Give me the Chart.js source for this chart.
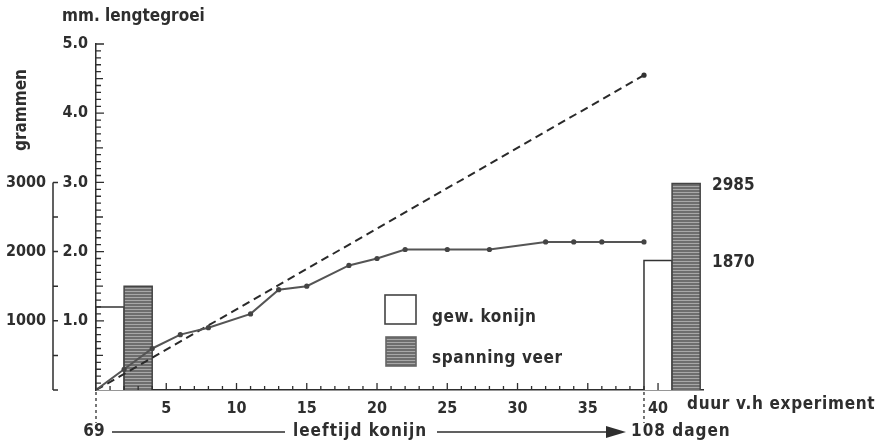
<!DOCTYPE html>
<html>
<head>
<meta charset="utf-8">
<script src="https://cdn.jsdelivr.net/npm/chart.js@4.4.0/dist/chart.umd.min.js"></script>
<style>
  html, body { margin: 0; padding: 0; background: #fff; }
  #wrap { width: 884px; height: 445px; position: relative; }
</style>
</head>
<body>
<div id="wrap"><canvas id="growthChart"></canvas></div>
<script>
// measured growth (mm) per day of the experiment
const growthDays = [0, 2, 4, 6, 8, 11, 13, 15, 18, 20, 22, 25, 28, 32, 34, 36, 39];
const growthMm = [0, 0.3, 0.6, 0.8, 0.9, 1.1, 1.45, 1.5, 1.8, 1.9, 2.03, 2.03, 2.03, 2.14, 2.14, 2.14, 2.14];

// dashed reference line
const expectedDays = [0, 39];
const expectedMm = [0, 4.55];

// bar pairs (start day of each pair), weight of rabbit and spring tension in grams
const barDays = [0, 39];
const rabbitWeight = [1200, 1870];
const springTension = [1500, 2985];

// tick labels
const dayTicks = [5, 10, 15, 20, 25, 30, 35, 40];
const mmTicks = ['1.0', '2.0', '3.0', '4.0', '5.0'];
const gramTicks = [1000, 2000, 3000];
const ageLabels = ['69', '108'];

const FONT = '"DejaVu Sans Condensed", "DejaVu Sans", sans-serif';
const INK = '#2e2e2e';
const BAR_W = 2;

// striped grey fill for the spring bars
function makeStripes() {
    const c = document.createElement('canvas');
    c.width = 6; c.height = 3;
    const g = c.getContext('2d');
    g.fillStyle = '#6e6e6e';
    g.fillRect(0, 0, 6, 3);
    g.fillStyle = '#a8a8a8';
    g.fillRect(0, 0, 6, 1);
    return g.createPattern(c, 'repeat');
}
const stripes = makeStripes();

function barShape(x0, value) {
    return [{x: x0, y: 0}, {x: x0, y: value}, {x: x0 + BAR_W, y: value}, {x: x0 + BAR_W, y: 0}];
}

const barSets = [];
barDays.forEach((d, i) => {
    barSets.push({
        label: 'gew. konijn',
        data: barShape(d, rabbitWeight[i]),
        yAxisID: 'yg',
        borderColor: '#333',
        borderWidth: 1.5,
        backgroundColor: '#fff',
        fill: 'origin',
        pointRadius: 0,
        order: 2
    });
    barSets.push({
        label: 'spanning veer',
        data: barShape(d + BAR_W, springTension[i]),
        yAxisID: 'yg',
        borderColor: '#444',
        borderWidth: 1.5,
        backgroundColor: stripes,
        fill: 'origin',
        pointRadius: 0,
        order: 1
    });
});

// ticks, side texts and legend drawn on top
const extras = {
    id: 'extras',
    afterDraw(chart) {
        const ctx = chart.ctx;
        const xs = chart.scales.x, ys = chart.scales.y, yg = chart.scales.yg;
        const base = ys.getPixelForValue(0);
        ctx.save();
        ctx.strokeStyle = INK;
        ctx.fillStyle = INK;
        ctx.lineWidth = 1.3;

        // day ticks, pointing up
        ctx.beginPath();
        for (let d = 1; d <= 40; d++) {
            const px = xs.getPixelForValue(d);
            const len = d % 5 === 0 ? 7 : 4;
            ctx.moveTo(px, base);
            ctx.lineTo(px, base - len);
        }
        ctx.stroke();

        // mm ticks, pointing right
        const ax = chart.chartArea.left;
        ctx.beginPath();
        for (let m = 1; m <= 50; m++) {
            const py = ys.getPixelForValue(m / 10);
            const len = m % 10 === 0 ? 8 : (m % 5 === 0 ? 7 : 5);
            ctx.moveTo(ax, py);
            ctx.lineTo(ax + len, py);
        }
        ctx.stroke();

        // gram axis 0..3000
        const gx = yg.right - 2;
        ctx.lineWidth = 1.5;
        ctx.beginPath();
        ctx.moveTo(gx, yg.getPixelForValue(0));
        ctx.lineTo(gx, yg.getPixelForValue(3000));
        for (let g = 0; g <= 3000; g += 500) {
            const py = yg.getPixelForValue(g);
            ctx.moveTo(gx, py);
            ctx.lineTo(gx + 5, py);
        }
        ctx.stroke();

        // dashed markers under day 0 and the last day
        ctx.setLineDash([3, 3]);
        ctx.lineWidth = 1.3;
        [expectedDays[0], expectedDays[1]].forEach(d => {
            const px = xs.getPixelForValue(d);
            ctx.beginPath();
            ctx.moveTo(px, base + 2);
            ctx.lineTo(px, base + 33);
            ctx.stroke();
        });
        ctx.setLineDash([]);

        // texts
        ctx.font = 'bold 17px ' + FONT;
        ctx.textBaseline = 'middle';
        ctx.textAlign = 'left';
        ctx.fillText('mm. lengtegroei', 62, 17);
        ctx.fillText(String(springTension[1]), 712, yg.getPixelForValue(springTension[1]) + 2);
        ctx.fillText(String(rabbitWeight[1]), 712, yg.getPixelForValue(rabbitWeight[1]) + 2);

        ctx.save();
        ctx.translate(22, 110);
        ctx.rotate(-Math.PI / 2);
        ctx.textAlign = 'center';
        ctx.fillText('grammen', 0, 0);
        ctx.restore();

        ctx.letterSpacing = '0.7px';
        ctx.fillText('duur v.h experiment', 687, 405);

        // age row
        const rowY = 432;
        const x0 = xs.getPixelForValue(expectedDays[0]);
        const x1 = xs.getPixelForValue(expectedDays[1]);
        ctx.letterSpacing = '0px';
        ctx.textAlign = 'center';
        ctx.fillText(ageLabels[0], x0 - 2, rowY);
        ctx.textAlign = 'left';
        ctx.letterSpacing = '1px';
        ctx.fillText('leeftijd konijn', 293, rowY);
        ctx.fillText(ageLabels[1] + ' dagen', x1 - 13, rowY);
        ctx.letterSpacing = '0px';
        ctx.lineWidth = 1.3;
        ctx.beginPath();
        ctx.moveTo(x0 + 16, rowY);
        ctx.lineTo(285, rowY);
        ctx.moveTo(437, rowY);
        ctx.lineTo(x1 - 25, rowY);
        ctx.stroke();
        ctx.beginPath();
        ctx.moveTo(x1 - 38, rowY - 6);
        ctx.lineTo(x1 - 18, rowY);
        ctx.lineTo(x1 - 38, rowY + 6);
        ctx.closePath();
        ctx.fill();

        // legend
        ctx.lineWidth = 1.6;
        ctx.strokeStyle = '#444';
        ctx.fillStyle = '#fff';
        ctx.fillRect(385, 295, 31, 29);
        ctx.strokeRect(385, 295, 31, 29);
        ctx.fillStyle = stripes;
        ctx.fillRect(386, 337, 30, 29);
        ctx.strokeStyle = '#666';
        ctx.strokeRect(386, 337, 30, 29);
        ctx.fillStyle = INK;
        ctx.letterSpacing = '0.6px';
        ctx.fillText('gew. konijn', 432, 318);
        ctx.fillText('spanning veer', 432, 359);
        ctx.restore();
    }
};

const ctx = document.getElementById('growthChart').getContext('2d');
const growthChart = new Chart(ctx, {
    type: 'line',
    data: {
        datasets: [
            {
                label: 'lengtegroei',
                data: growthDays.map((d, i) => ({x: d, y: growthMm[i]})),
                yAxisID: 'y',
                borderColor: '#555',
                borderWidth: 2,
                pointRadius: 2.6,
                pointBackgroundColor: '#444',
                pointBorderWidth: 0,
                fill: false,
                order: 0
            },
            {
                label: 'verwacht',
                data: expectedDays.map((d, i) => ({x: d, y: expectedMm[i]})),
                yAxisID: 'y',
                borderColor: '#2a2a2a',
                borderWidth: 2,
                borderDash: [8, 5],
                pointRadius: [0, 2.6],
                pointBackgroundColor: '#333',
                pointBorderWidth: 0,
                fill: false,
                order: 0
            },
            ...barSets
        ]
    },
    options: {
        responsive: true,
        maintainAspectRatio: false,
        animation: false,
        layout: { padding: { top: 44, right: 181, left: 0, bottom: 0 } },
        plugins: {
            legend: { display: false },
            tooltip: { enabled: false }
        },
        scales: {
            x: {
                type: 'linear',
                min: 0,
                max: 43.2,
                grid: { display: false, drawTicks: false },
                border: { display: true, color: INK, width: 1.5 },
                afterFit: s => { s.height = 55; },
                afterBuildTicks: s => { s.ticks = dayTicks.map(v => ({value: v})); },
                ticks: {
                    autoSkip: false,
                    maxRotation: 0,
                    padding: 9,
                    color: INK,
                    font: { family: FONT, size: 16, weight: 'bold' },
                    callback: v => String(v)
                }
            },
            y: {
                type: 'linear',
                position: 'left',
                weight: 0,
                min: 0,
                max: 5,
                grid: { display: false, drawTicks: false },
                border: { display: true, color: INK, width: 1.5 },
                afterFit: s => { s.width = 41; },
                afterBuildTicks: s => { s.ticks = mmTicks.map(v => ({value: parseFloat(v)})); },
                ticks: {
                    padding: 8,
                    color: INK,
                    font: { family: FONT, size: 16, weight: 'bold' },
                    callback: (v, i) => mmTicks[i]
                }
            },
            yg: {
                type: 'linear',
                position: 'left',
                weight: 1,
                min: 0,
                max: 5000,
                grid: { display: false, drawTicks: false },
                border: { display: false },
                afterFit: s => { s.width = 55; },
                afterBuildTicks: s => { s.ticks = gramTicks.map(v => ({value: v})); },
                ticks: {
                    padding: 9,
                    color: INK,
                    font: { family: FONT, size: 16, weight: 'bold' },
                    callback: v => String(v)
                }
            }
        }
    },
    plugins: [extras]
});
</script>
</body>
</html>
